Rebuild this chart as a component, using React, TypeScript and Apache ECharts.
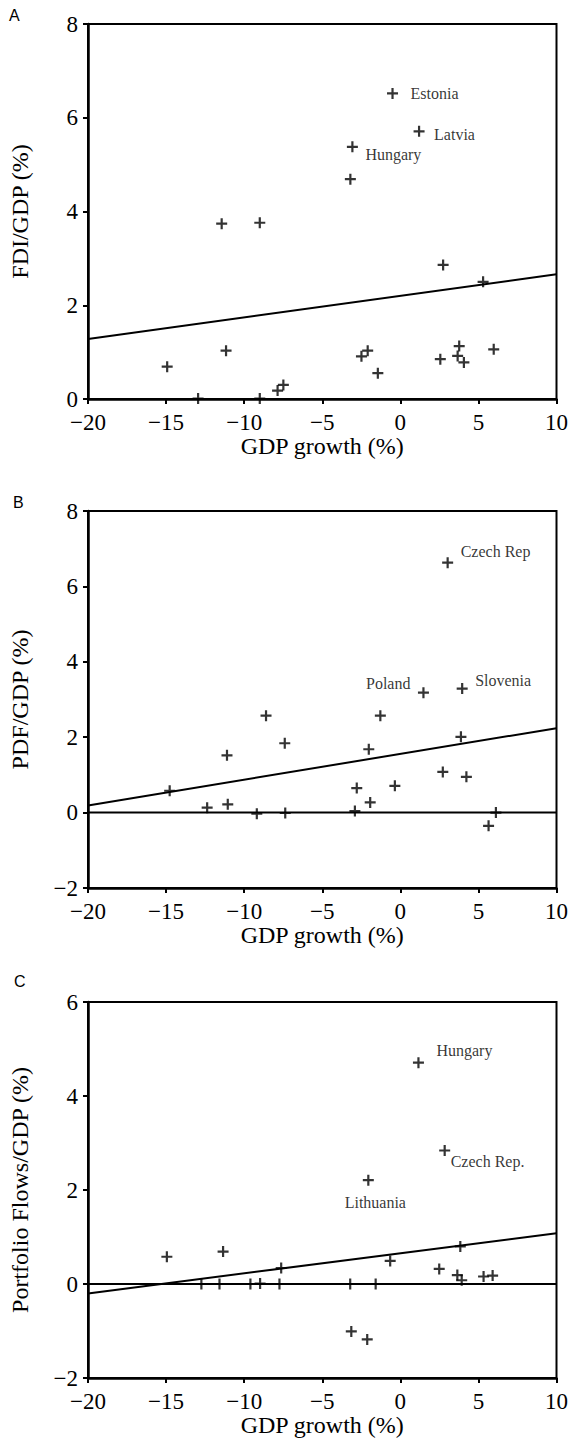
import React, { useEffect, useRef } from "react";
import * as echarts from "echarts";

// Panel A: FDI/GDP vs GDP growth
const fdiPoints: [number, number][] = [
  [-11.44, 3.74], [-9.0, 3.76], [-3.2, 4.69], [2.74, 2.86], [5.3, 2.5],
  [-14.93, 0.69], [-11.16, 1.03], [-12.95, 0.01], [-9.0, 0.01], [-7.86, 0.18],
  [-7.49, 0.3], [-2.49, 0.91], [-2.09, 1.03], [-1.44, 0.55], [2.56, 0.85],
  [3.77, 1.13], [3.67, 0.92], [4.07, 0.78], [5.98, 1.06],
];
const fdiNamed: [string, number, number][] = [
  ["Estonia", -0.5, 6.52],
  ["Latvia", 1.2, 5.71],
  ["Hungary", -3.07, 5.38],
];
const fdiFit: [number, number][] = [[-20, 1.28], [10, 2.66]];

// Panel B: PDF/GDP vs GDP growth
const pdfPoints: [number, number][] = [
  [-8.6, 2.57], [-1.28, 2.57], [-7.4, 1.84], [-11.1, 1.52], [-2.02, 1.68],
  [3.88, 2.01], [-14.77, 0.58], [-12.37, 0.13], [-11.05, 0.22], [-9.19, -0.03],
  [-7.37, -0.01], [-2.79, 0.65], [-2.91, 0.04], [-1.93, 0.27], [-0.35, 0.71],
  [2.72, 1.08], [4.23, 0.95], [5.65, -0.35], [6.12, 0.0],
];
const pdfNamed: [string, number, number][] = [
  ["Czech Rep", 3.03, 6.63],
  ["Poland", 1.48, 3.18],
  ["Slovenia", 3.96, 3.29],
];
const pdfFit: [number, number][] = [[-20, 0.19], [10, 2.24]];

// Panel C: Portfolio flows/GDP vs GDP growth
const pfPoints: [number, number][] = [
  [-14.95, 0.58], [-11.35, 0.69], [-12.74, 0.0], [-11.58, 0.0], [-9.6, 0.0],
  [-8.98, 0.01], [-7.74, 0.0], [-7.63, 0.34], [-3.21, 0.0], [-1.58, 0.0],
  [-0.65, 0.49], [2.49, 0.32], [3.84, 0.8], [3.65, 0.19], [3.93, 0.08],
  [5.33, 0.16], [5.91, 0.18], [-3.14, -1.01], [-2.12, -1.18],
];
const pfNamed: [string, number, number][] = [
  ["Hungary", 1.16, 4.71],
  ["Czech Rep.", 2.84, 2.84],
  ["Lithuania", -2.05, 2.21],
];
const pfFit: [number, number][] = [[-20, -0.2], [10, 1.08]];

const zeroLine: [number, number][] = [[-20, 0], [10, 0]];

const panelLetters = ["A", "B", "C"];
const yNames = ["FDI/GDP (%)", "PDF/GDP (%)", "Portfolio Flows/GDP (%)"];
const xName = "GDP growth (%)";
const xRange = { min: -20, max: 10, interval: 5 };
const yRanges = [
  { min: 0, max: 8, interval: 2 },
  { min: -2, max: 8, interval: 2 },
  { min: -2, max: 6, interval: 2 },
];

const SERIF = "'Liberation Serif', 'Times New Roman', serif";
const SANS = "'Liberation Sans', Arial, sans-serif";
const PLUS = "path://M4,0H6V4H10V6H6V10H4V6H0V4H4Z";

const grids = [
  { left: 87, top: 24, width: 470, height: 375 },
  { left: 88, top: 511, width: 471, height: 377 },
  { left: 88, top: 1002, width: 471, height: 376 },
];

const labelPlacement: Record<string, { position: string; offset: [number, number] }> = {
  "0:Estonia": { position: "right", offset: [12.5, 0] },
  "0:Latvia": { position: "right", offset: [9.5, 3] },
  "0:Hungary": { position: "right", offset: [7.5, 8] },
  "1:Czech Rep": { position: "right", offset: [7.5, -11] },
  "1:Poland": { position: "left", offset: [-7.5, -9] },
  "1:Slovenia": { position: "right", offset: [7.5, -8] },
  "2:Hungary": { position: "right", offset: [12.5, -12] },
  "2:Czech Rep.": { position: "right", offset: [0.5, 11] },
  "2:Lithuania": { position: "bottom", offset: [7, 9] },
};

const minus = (v: number) => String(v).replace("-", "\u2212");

export default function App() {
  const ref = useRef<HTMLDivElement>(null);
  useEffect(() => {
    if (!ref.current) return;
    const chart = echarts.init(ref.current, undefined, { renderer: "svg" });
    const pointSets = [fdiPoints, pdfPoints, pfPoints];
    const namedSets = [fdiNamed, pdfNamed, pfNamed];
    const fits = [fdiFit, pdfFit, pfFit];

    const series: any[] = [];
    for (let i = 0; i < 3; i++) {
      series.push({
        type: "line",
        xAxisIndex: i,
        yAxisIndex: i,
        data: fits[i],
        symbol: "none",
        lineStyle: { color: "#000", width: 2 },
        silent: true,
        z: 3,
      });
      if (i > 0) {
        series.push({
          type: "line",
          xAxisIndex: i,
          yAxisIndex: i,
          data: zeroLine,
          symbol: "none",
          lineStyle: { color: "#000", width: 2 },
          silent: true,
          z: 3,
        });
      }
      const data: any[] = pointSets[i].map((p) => ({ value: p }));
      namedSets[i].forEach(([name, x, y]) => {
        const pl = labelPlacement[`${i}:${name}`];
        data.push({
          value: [x, y],
          name,
          label: {
            show: true,
            formatter: name,
            position: pl.position,
            offset: pl.offset,
            distance: 0,
            fontFamily: SERIF,
            fontSize: 16,
            color: "#000",
          },
        });
      });
      series.push({
        type: "scatter",
        xAxisIndex: i,
        yAxisIndex: i,
        symbol: PLUS,
        symbolSize: 11,
        itemStyle: { color: "#000" },
        data,
        z: 5,
      });
    }

    chart.setOption({
      animation: false,
      backgroundColor: "#fff",
      grid: grids.map((g) => ({
        ...g,
        show: true,
        borderColor: "#000",
        borderWidth: 2,
        backgroundColor: "transparent",
        containLabel: false,
      })),
      xAxis: grids.map((_, i) => ({
        type: "value",
        gridIndex: i,
        min: xRange.min,
        max: xRange.max,
        interval: xRange.interval,
        name: xName,
        nameLocation: "middle",
        nameGap: 33,
        nameTextStyle: { fontFamily: SERIF, fontSize: 24, color: "#000" },
        axisLine: { show: true, onZero: false, lineStyle: { color: "#000", width: 2.5 } },
        axisTick: { show: true, inside: false, length: 5, lineStyle: { color: "#000", width: 2 } },
        axisLabel: {
          fontFamily: SERIF,
          fontSize: 23,
          lineHeight: 20,
          color: "#000",
          margin: 13,
          formatter: minus,
        },
        splitLine: { show: false },
      })),
      yAxis: grids.map((_, i) => ({
        type: "value",
        gridIndex: i,
        min: yRanges[i].min,
        max: yRanges[i].max,
        interval: yRanges[i].interval,
        name: yNames[i],
        nameLocation: "middle",
        nameGap: 56,
        nameTextStyle: { fontFamily: SERIF, fontSize: 24, color: "#000" },
        axisLine: { show: true, onZero: false, lineStyle: { color: "#000", width: 2.5 } },
        axisTick: { show: true, inside: false, length: 5, lineStyle: { color: "#000", width: 2 } },
        axisLabel: {
          fontFamily: SERIF,
          fontSize: 23,
          lineHeight: 18,
          color: "#000",
          margin: 10,
          formatter: minus,
        },
        splitLine: { show: false },
      })),
      graphic: [
        { type: "text", left: 9, top: 7, style: { text: panelLetters[0], font: `16px ${SANS}`, fill: "#000" } },
        { type: "text", left: 13, top: 494, style: { text: panelLetters[1], font: `16px ${SANS}`, fill: "#000" } },
        { type: "text", left: 14, top: 973, style: { text: panelLetters[2], font: `16px ${SANS}`, fill: "#000" } },
      ],
      series,
    });
    return () => chart.dispose();
  }, []);

  return (
    <div
      ref={ref}
      style={{ position: "absolute", left: 0, top: 0, width: 571, height: 1448, background: "#fff" }}
    />
  );
}
